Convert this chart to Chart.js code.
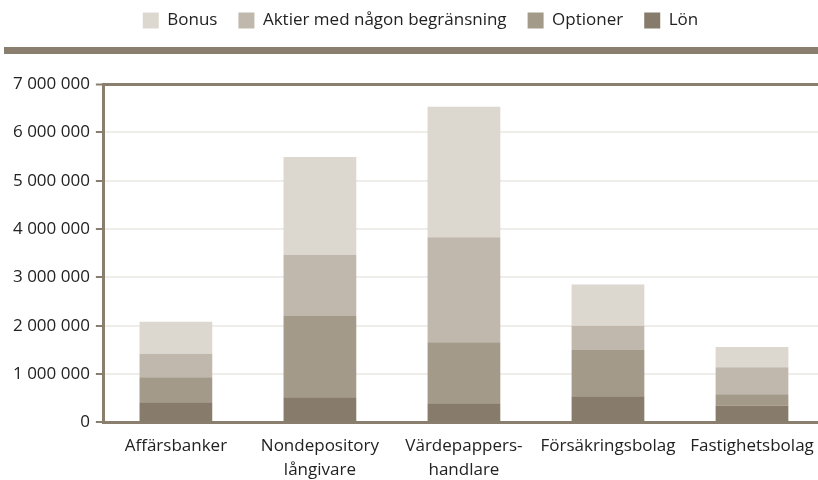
<!DOCTYPE html>
<html>
<head>
<meta charset="utf-8">
<script src="https://cdn.jsdelivr.net/npm/chart.js@4"></script>
<style>
  html, body { margin: 0; padding: 0; background: #fff; overflow: hidden; }
  #wrap { width: 824px; height: 480px; position: relative; }
</style>
</head>
<body>
<div id="wrap"><canvas id="chart"></canvas></div>
<script>
// Categories and stacked series (bottom to top)
const categories = ['Affärsbanker', ['Nondepository', 'långivare'], ['Värdepappers-', 'handlare'], 'Försäkringsbolag', 'Fastighetsbolag'];
const lon = [415000, 520000, 395000, 540000, 350000];
const optioner = [520000, 1680000, 1265000, 960000, 230000];
const aktier = [485000, 1270000, 2170000, 500000, 560000];
const bonus = [660000, 2020000, 2700000, 850000, 420000];
const yTicks = [0, 1000000, 2000000, 3000000, 4000000, 5000000, 6000000, 7000000];

const FONT = '"Open Sans", sans-serif';
const DARK = '#8a7f6f';
const LIGHT = '#efede9';

// Thick band under the legend + extra room below it
const bandPlugin = {
  id: 'band',
  beforeInit(chart) {
    const fit = chart.legend.fit;
    chart.legend.fit = function () {
      fit.bind(chart.legend)();
      this.height += 45;
    };
  },
  afterLayout(chart) {
    // nudge legend a bit to the right
    chart.legend.left += 5;
    chart.legend.right += 5;
  },
  afterDraw(chart) {
    const ctx = chart.ctx;
    ctx.save();
    ctx.fillStyle = DARK;
    ctx.fillRect(4, 47, chart.width - 4, 7);
    ctx.restore();
  }
};

new Chart(document.getElementById('chart').getContext('2d'), {
  type: 'bar',
  data: {
    labels: categories,
    datasets: [
      { label: 'Lön', data: lon, backgroundColor: '#877c6b' },
      { label: 'Optioner', data: optioner, backgroundColor: '#a39a8a' },
      { label: 'Aktier med någon begränsning', data: aktier, backgroundColor: '#c0b8ad' },
      { label: 'Bonus', data: bonus, backgroundColor: '#dcd8d0' }
    ]
  },
  options: {
    responsive: true,
    maintainAspectRatio: false,
    animation: false,
    layout: { padding: { left: 7, right: 0, top: -9, bottom: -14 } },
    datasets: { bar: { barPercentage: 0.505, categoryPercentage: 1 } },
    plugins: {
      legend: {
        position: 'top',
        reverse: true,
        labels: {
          boxWidth: 16,
          boxHeight: 16,
          padding: 21,
          color: '#222',
          font: { family: FONT, size: 17 }
        }
      },
      tooltip: { enabled: false }
    },
    scales: {
      x: {
        stacked: true,
        afterFit(scale) { scale.paddingRight = 0; scale.paddingLeft = 0; },
        grid: { display: false, drawTicks: false },
        border: { color: DARK, width: 3 },
        ticks: {
          color: '#222',
          padding: 12,
          maxRotation: 0,
          autoSkip: false,
          font: { family: FONT, size: 17, lineHeight: 1.4 }
        }
      },
      y: {
        stacked: true,
        min: 0,
        max: 7000000,
        afterBuildTicks(axis) {
          axis.ticks = yTicks.map(v => ({ value: v }));
        },
        grid: {
          color: ctx => (ctx.tick && ctx.tick.value === 7000000) ? DARK : LIGHT,
          lineWidth: ctx => (ctx.tick && ctx.tick.value === 7000000) ? 3 : 2,
          tickColor: DARK,
          tickLength: 8,
          tickWidth: 2
        },
        border: { color: DARK, width: 3 },
        ticks: {
          color: '#222',
          padding: 6,
          font: { family: FONT, size: 17 },
          callback: v => String(v).replace(/\B(?=(\d{3})+(?!\d))/g, ' ')
        }
      }
    }
  },
  plugins: [bandPlugin]
});
</script>
</body>
</html>
